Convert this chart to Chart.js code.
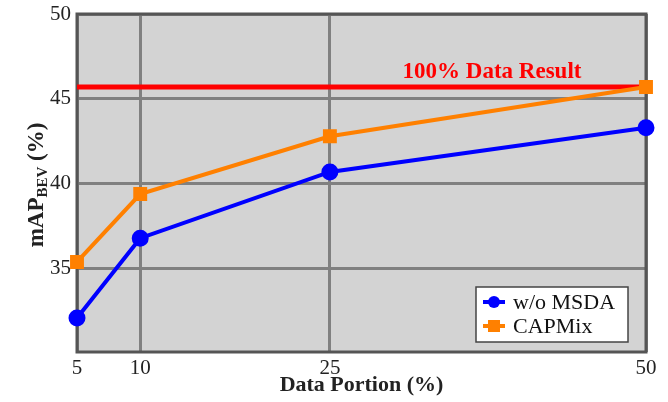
<!DOCTYPE html>
<html>
<head>
<meta charset="utf-8">
<script src="https://cdn.jsdelivr.net/npm/chart.js@4"></script>
<style>
  html, body { margin: 0; padding: 0; background: #fff; }
  #wrap { width: 668px; height: 402px; }
</style>
</head>
<body>
<div id="wrap"><canvas id="chart" width="668" height="402"></canvas></div>
<script>
const portions = [5, 10, 25, 50];
const woMsda = [32.1, 36.8, 40.7, 43.3];
const capMix = [35.4, 39.4, 42.8, 45.7];
const fullDataResult = 45.7;
const xTicks = [5, 10, 25, 50];
const yTicks = [35, 40, 45, 50];

const serif = '"Liberation Serif", "DejaVu Serif", serif';

// background, border, red reference line, titles and legend
const decor = {
  id: 'decor',
  beforeDraw(chart) {
    const { ctx, chartArea: a } = chart;
    ctx.save();
    ctx.fillStyle = '#d3d3d3';
    ctx.fillRect(a.left, a.top, a.right - a.left, a.bottom - a.top);
    ctx.restore();
  },
  beforeDatasetsDraw(chart) {
    const { ctx, chartArea: a, scales } = chart;
    const y = scales.y.getPixelForValue(fullDataResult);
    ctx.save();
    ctx.strokeStyle = '#555';
    ctx.lineWidth = 3;
    ctx.strokeRect(a.left, a.top, a.right - a.left, a.bottom - a.top);
    ctx.strokeStyle = '#ff0000';
    ctx.lineWidth = 5;
    ctx.beginPath();
    ctx.moveTo(a.left, y);
    ctx.lineTo(a.right, y);
    ctx.stroke();
    ctx.fillStyle = '#ff0000';
    ctx.font = 'bold 23px ' + serif;
    ctx.textAlign = 'center';
    ctx.textBaseline = 'alphabetic';
    ctx.fillText('100% Data Result', 492, y - 9);
    ctx.restore();
  },
  afterDraw(chart) {
    const { ctx, chartArea: a } = chart;
    ctx.save();
    ctx.fillStyle = '#222';
    // x title
    ctx.font = 'bold 22px ' + serif;
    ctx.textAlign = 'center';
    ctx.textBaseline = 'alphabetic';
    ctx.fillText('Data Portion (%)', (a.left + a.right) / 2, 391);
    // y title with subscript
    ctx.translate(36, (a.top + a.bottom) / 2 + 2);
    ctx.rotate(-Math.PI / 2);
    ctx.textAlign = 'left';
    const big = 'bold 23px ' + serif, small = 'bold 15px ' + serif;
    ctx.font = big; const w1 = ctx.measureText('mAP').width;
    ctx.font = small; const w2 = ctx.measureText('BEV').width;
    ctx.font = big; const w3 = ctx.measureText(' (%)').width;
    let x = -(w1 + w2 + w3) / 2;
    ctx.font = big; ctx.fillText('mAP', x, 7); x += w1;
    ctx.font = small; ctx.fillText('BEV', x, 11); x += w2;
    ctx.font = big; ctx.fillText(' (%)', x, 7);
    ctx.restore();

    // legend box
    ctx.save();
    const bx = 476, by = 287, bw = 152, bh = 55;
    ctx.fillStyle = '#fff';
    ctx.fillRect(bx, by, bw, bh);
    ctx.strokeStyle = '#444';
    ctx.lineWidth = 1.5;
    ctx.strokeRect(bx, by, bw, bh);
    chart.data.datasets.forEach((ds, i) => {
      const cy = by + 15 + i * 24;
      ctx.strokeStyle = ds.borderColor;
      ctx.lineWidth = 4;
      ctx.beginPath();
      ctx.moveTo(bx + 7, cy);
      ctx.lineTo(bx + 29, cy);
      ctx.stroke();
      ctx.fillStyle = ds.borderColor;
      if (ds.pointStyle === 'rect') {
        ctx.fillRect(bx + 12, cy - 6, 12, 12);
      } else {
        ctx.beginPath();
        ctx.arc(bx + 18, cy, 6, 0, Math.PI * 2);
        ctx.fill();
      }
      ctx.fillStyle = '#111';
      ctx.font = '22px ' + serif;
      ctx.textAlign = 'left';
      ctx.textBaseline = 'middle';
      ctx.fillText(ds.label, bx + 37, cy + 1);
    });
    ctx.restore();
  }
};

new Chart(document.getElementById('chart'), {
  type: 'line',
  data: {
    datasets: [
      {
        label: 'w/o MSDA',
        data: portions.map((p, i) => ({ x: p, y: woMsda[i] })),
        borderColor: '#0000ff',
        backgroundColor: '#0000ff',
        borderWidth: 4,
        pointStyle: 'circle',
        pointRadius: 6.5,
        pointHoverRadius: 6.5,
        tension: 0
      },
      {
        label: 'CAPMix',
        data: portions.map((p, i) => ({ x: p, y: capMix[i] })),
        borderColor: '#ff8000',
        backgroundColor: '#ff8000',
        borderWidth: 4,
        pointStyle: 'rect',
        pointRadius: 7,
        pointHoverRadius: 7,
        tension: 0
      }
    ]
  },
  options: {
    responsive: false,
    animation: false,
    events: [],
    clip: false,
    layout: { padding: { top: 14, right: 22, left: 0, bottom: 0 } },
    plugins: { legend: { display: false }, tooltip: { enabled: false } },
    scales: {
      x: {
        type: 'linear',
        min: 5,
        max: 50,
        afterBuildTicks(s) { s.ticks = xTicks.map(v => ({ value: v })); },
        afterFit(s) { s.height = 50; },
        border: { display: false },
        grid: { color: '#808080', lineWidth: 3, drawTicks: false },
        ticks: { padding: 6, color: '#222', font: { family: serif, size: 21, lineHeight: 1 } }
      },
      y: {
        min: 30.1,
        max: 50,
        afterBuildTicks(s) { s.ticks = yTicks.map(v => ({ value: v })); },
        afterFit(s) { s.width = 77; },
        border: { display: false },
        grid: { color: '#808080', lineWidth: 3, drawTicks: false },
        ticks: { padding: 6, color: '#222', font: { family: serif, size: 21, lineHeight: 0.5 } }
      }
    }
  },
  plugins: [decor]
});
</script>
</body>
</html>
